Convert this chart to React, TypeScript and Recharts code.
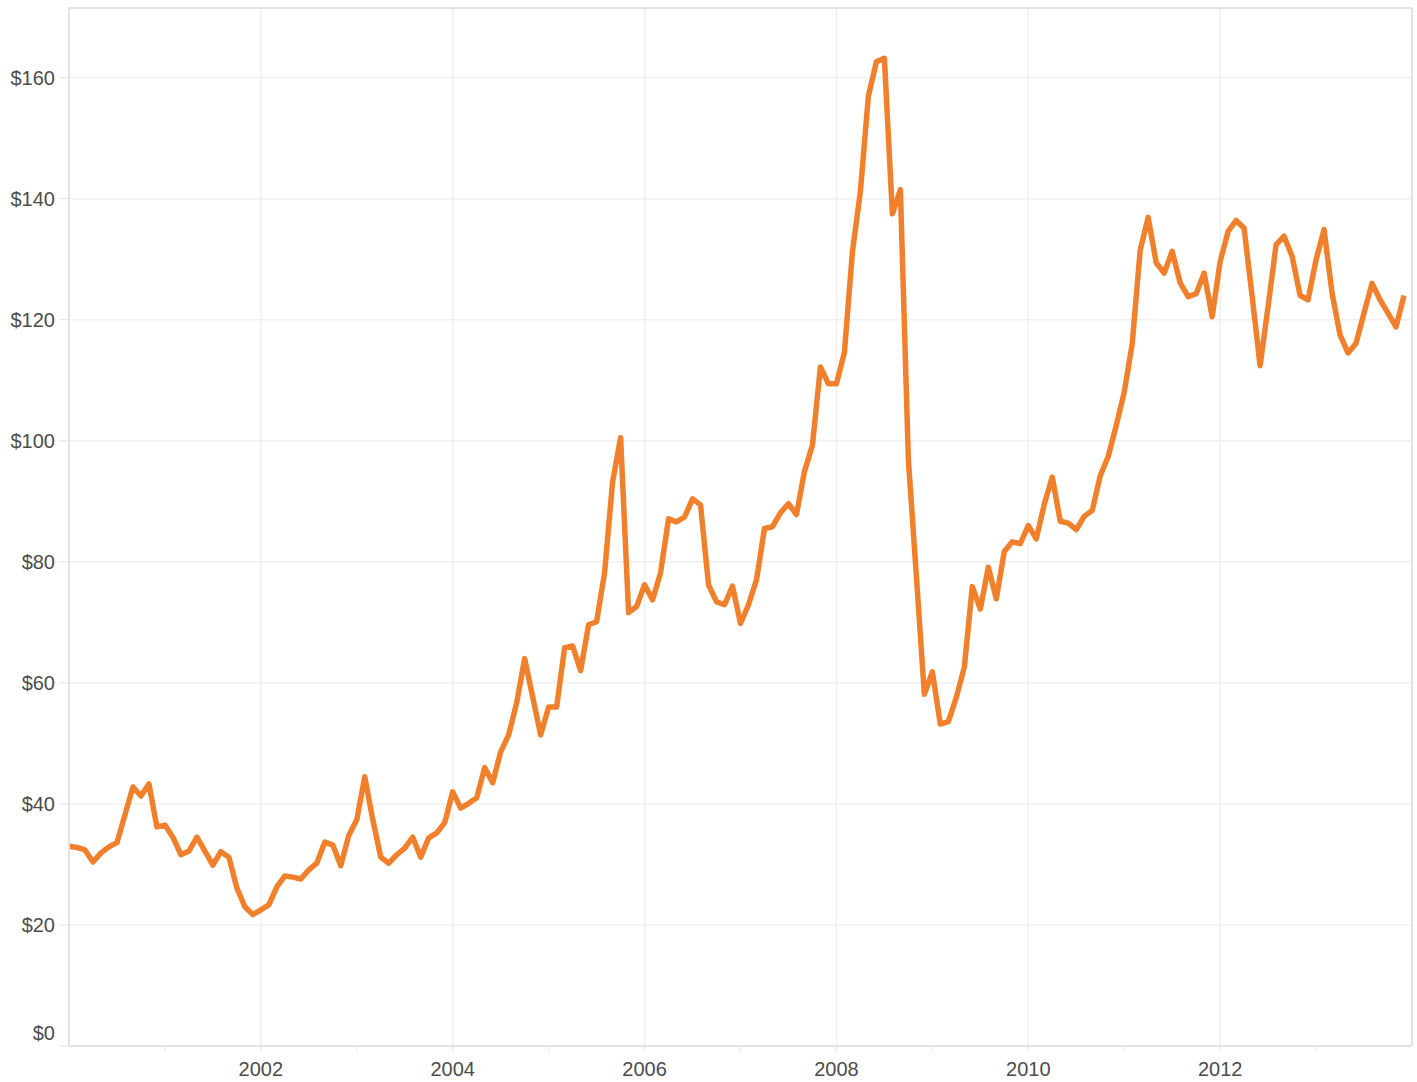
import {
  LineChart,
  Line,
  XAxis,
  YAxis,
  CartesianGrid,
  ReferenceLine,
} from "recharts";

// monthly values, Jan..Dec of each year
const Y2000 = [33.0, 32.8, 32.4, 30.4, 31.9, 32.9, 33.6, 38.2, 42.8, 41.3, 43.3, 36.2];
const Y2001 = [36.5, 34.5, 31.6, 32.2, 34.5, 32.2, 29.9, 32.1, 31.2, 26.1, 23.0, 21.7];
const Y2002 = [22.5, 23.3, 26.3, 28.1, 27.9, 27.6, 29.1, 30.2, 33.7, 33.2, 29.8, 34.8];
const Y2003 = [37.4, 44.5, 37.4, 31.2, 30.2, 31.6, 32.7, 34.5, 31.2, 34.4, 35.2, 36.9];
const Y2004 = [42.0, 39.3, 40.1, 41.0, 46.0, 43.5, 48.6, 51.4, 56.7, 64.0, 57.7, 51.4];
const Y2005 = [56.0, 56.0, 65.8, 66.1, 62.0, 69.6, 70.1, 78.2, 93.2, 100.5, 71.6, 72.6];
const Y2006 = [76.2, 73.7, 78.2, 87.1, 86.6, 87.4, 90.4, 89.4, 76.2, 73.4, 72.9, 76.0];
const Y2007 = [69.8, 72.9, 77.0, 85.5, 85.8, 88.1, 89.6, 87.8, 94.9, 99.3, 112.2, 109.4];
const Y2008 = [109.4, 114.6, 131.2, 141.2, 157.0, 162.6, 163.2, 137.5, 141.5, 96.9, 77.7, 58.1];
const Y2009 = [61.8, 53.2, 53.6, 57.6, 62.6, 75.9, 72.2, 79.1, 73.9, 81.7, 83.3, 83.0];
const Y2010 = [86.0, 83.8, 89.5, 94.0, 86.7, 86.4, 85.3, 87.5, 88.5, 94.2, 97.4, 102.5];
const Y2011 = [108.0, 116.0, 131.5, 136.9, 129.4, 127.7, 131.3, 126.1, 123.8, 124.3, 127.7, 120.5];
const Y2012 = [129.6, 134.6, 136.4, 135.1, 123.9, 112.4, 122.2, 132.4, 133.8, 130.5, 124.0, 123.3];
const Y2013 = [129.9, 134.9, 124.4, 117.5, 114.5, 116.1, 121.1, 126.0, 123.3, 121.1, 118.8, 124.0];

const YEARS = [2000, 2001, 2002, 2003, 2004, 2005, 2006, 2007, 2008, 2009, 2010, 2011, 2012, 2013];
const VALUES = [Y2000, Y2001, Y2002, Y2003, Y2004, Y2005, Y2006, Y2007, Y2008, Y2009, Y2010, Y2011, Y2012, Y2013];

const X_TICKS = [2001, 2002, 2003, 2004, 2005, 2006, 2007, 2008, 2009, 2010, 2011, 2012, 2013];
const X_GRID = [2002, 2004, 2006, 2008, 2010, 2012];
const Y_TICKS = [0, 20, 40, 60, 80, 100, 120, 140, 160];

const data = YEARS.flatMap((year, i) =>
  VALUES[i].map((price, m) => ({ t: year + m / 12, price }))
);

const LABEL = "#4c4c4c";
const FRAME = "#e2e2e2";
const GRID = "#f0f0f0";
const FONT = "'Liberation Sans', Arial, sans-serif";

function YTick(props: any) {
  const { x, y, payload } = props;
  return (
    <text
      x={x}
      y={y}
      dy={payload.value === 0 ? -6 : 7}
      textAnchor="end"
      fill={LABEL}
      fontSize={20}
      fontFamily={FONT}
    >
      {"$" + payload.value}
    </text>
  );
}

function XTick(props: any) {
  const { x, y, payload } = props;
  if (payload.value % 2 !== 0) return null;
  return (
    <text x={x} y={y} dy={14} textAnchor="middle" fill={LABEL} fontSize={20} fontFamily={FONT}>
      {payload.value}
    </text>
  );
}

export default function App() {
  return (
    <div style={{ position: "absolute", left: 0, top: 0, background: "#fff" }}>
      <LineChart
        width={1417}
        height={1082}
        data={data}
        margin={{ top: 8, right: 5, bottom: 0, left: 0 }}
      >
        <CartesianGrid stroke={GRID} strokeWidth={1.5} vertical={false} />
        {X_GRID.map((yr) => (
          <ReferenceLine key={yr} x={yr} stroke={GRID} strokeWidth={1.5} />
        ))}
        <ReferenceLine y={171.5} stroke={FRAME} strokeWidth={2} />
        <ReferenceLine x={2014} stroke={FRAME} strokeWidth={2} />
        <XAxis
          dataKey="t"
          type="number"
          domain={[2000, 2014]}
          ticks={X_TICKS}
          height={36}
          axisLine={{ stroke: FRAME, strokeWidth: 2 }}
          tickLine={{ stroke: FRAME }}
          tickSize={5}
          tickMargin={11}
          tick={<XTick />}
          interval={0}
          allowDataOverflow
        />
        <YAxis
          domain={[0, 171.5]}
          ticks={Y_TICKS}
          width={69}
          axisLine={{ stroke: FRAME, strokeWidth: 2 }}
          tickLine={{ stroke: FRAME }}
          tickSize={10}
          tickMargin={4}
          tick={<YTick />}
          interval={0}
          allowDataOverflow
        />
        <Line
          type="linear"
          dataKey="price"
          stroke="#f0802c"
          strokeWidth={5.5}
          strokeLinejoin="round"
          dot={false}
          isAnimationActive={false}
        />
      </LineChart>
    </div>
  );
}
